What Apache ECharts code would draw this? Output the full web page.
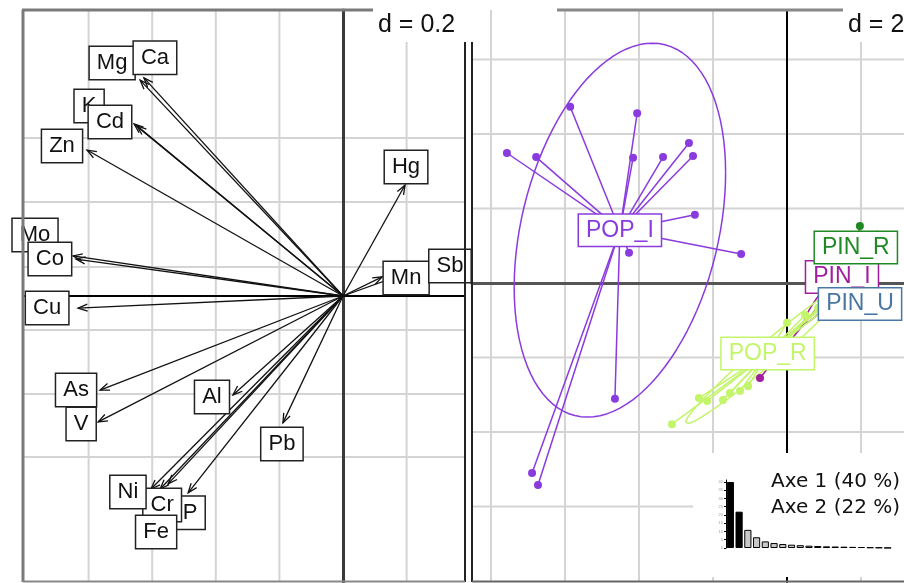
<!DOCTYPE html>
<html>
<head>
<meta charset="utf-8">
<script src="https://cdn.jsdelivr.net/npm/echarts@6.0.0/dist/echarts.min.js"></script>
<style>
  html, body { margin: 0; padding: 0; background: #fff; }
  #chart { width: 904px; height: 583px; }
</style>
</head>
<body>
<div id="chart"></div>
<script>
// ---- Correlation circle: loadings of each element on axes 1 and 2 ----
const variables = ['Mg','Ca','K','Cd','Zn','Mo','Co','Cu','As','V','Al','Pb','P','Cr','Ni','Fe','Hg','Mn','Sb'];
const loadAxis1 = [-0.638,-0.626,-0.657,-0.648,-0.805,-0.849,-0.840,-0.833,-0.764,-0.770,-0.346,-0.189,-0.487,-0.575,-0.604,-0.550, 0.195, 0.123, 0.242];
const loadAxis2 = [ 0.679, 0.686, 0.541, 0.535, 0.459, 0.126, 0.116,-0.038,-0.296,-0.396,-0.311,-0.399,-0.619,-0.607,-0.607,-0.591, 0.349, 0.060, 0.088];

// ---- Site scores on axes 1 and 2, by group ----
const groups = ['PIN_I','PIN_R','PIN_U','POP_I','POP_R'];
const pinI_x = [-0.73, 1.43, 1.57, 1.70, 1.84, 1.92, 1.59, 1.76, 1.54, 1.86, 1.65, 1.70];
const pinI_y = [-2.55, 0.56, 0.35, 0.48, 0.30, 0.46, 0.19, 0.62, 0.46, 0.35, 0.30, 0.40];
const pinR_x = [1.97, 1.84, 1.92, 1.76, 1.86, 1.81];
const pinR_y = [1.53, 0.83, 0.89, 0.75, 0.81, 0.89];
const pinU_x = [1.70, 1.92, 2.11, 2.24, 1.84, 2.03];
const pinU_y = [-0.46,-0.62,-0.51,-0.67,-0.73,-0.40];
const popI_x = [-5.86,-4.05,-7.57,-6.78,-4.16,-3.35,-2.65,-2.54,-2.49,-1.24,-4.27,-4.65,-6.89,-6.73];
const popI_y = [ 4.73, 4.56, 3.49, 3.38, 3.36, 3.38, 3.76, 3.41, 1.83, 0.78, 0.81,-3.11,-5.10,-5.42];
const popR_x = [-3.11,-2.38,-2.16,-1.73,-1.54,-1.27,-1.05, 0.00, 0.49, 0.84, 1.05, 1.22, 1.32, 1.00];
const popR_y = [-3.79,-3.09,-3.17,-3.14,-2.95,-2.90,-2.77,-1.07,-0.86,-0.67,-0.54,-0.43,-0.35,-0.73];

// ---- Eigenvalues (% of inertia) ----
const eigenPct = [40, 22, 11, 6.5, 4, 3, 2.4, 2, 1.7, 1.4, 1.2, 1, 0.9, 0.8, 0.7, 0.6, 0.4, 0.3, 0.1];

// ---- Reference grid positions ----
const leftGridX = [-0.8, -0.6, -0.4, -0.2, 0.2];
const leftGridY = [0.497, 0.296, 0.091, -0.107, -0.308, -0.506];
const rightGridX = [-8, -6, -4, -2, 2];
const rightGridY = [6, 4, 2, -2, -4, -6];

// ---- Layout / style ----
const LX = [-1.0063, 0.3836], LY = [-0.8994, 0.8994];
const RX = [-8.5135, 3.1622], RY = [-8.0268, 7.3289];
const groupColor = {
  PIN_I: '#A11E9E', PIN_R: '#1F8A24', PIN_U: '#4A77A2', POP_I: '#8A3BDE', POP_R: '#C3F56A'
};
// label box offset (px) from the arrow tip
const labelShift = {
  Mg:[-28,-17], Ca:[11,-20], K:[-45,-18], Cd:[-27,-4], Zn:[-25,-4], Mo:[-38,-21], Co:[-26,0],
  Cu:[-31,0], As:[-24,0], V:[-17,2], Al:[-21,2], Pb:[-1,21], P:[2,20], Cr:[2,16], Ni:[-23,3],
  Fe:[-12,48], Hg:[1,-18], Mn:[24,1], Sb:[30,-2]
};
const sansFont = '"Liberation Sans", Arial, sans-serif';

const groupPoints = {
  PIN_I: [pinI_x, pinI_y], PIN_R: [pinR_x, pinR_y], PIN_U: [pinU_x, pinU_y],
  POP_I: [popI_x, popI_y], POP_R: [popR_x, popR_y]
};

function mean(a) { return a.reduce((s, v) => s + v, 0) / a.length; }

// Inertia ellipse (1.5 standard deviations) of a group
function inertiaEllipse(xs, ys, coeff) {
  const mx = mean(xs), my = mean(ys), n = xs.length;
  let vx = 0, vy = 0, cxy = 0;
  for (let i = 0; i < n; i++) {
    vx += (xs[i] - mx) ** 2; vy += (ys[i] - my) ** 2; cxy += (xs[i] - mx) * (ys[i] - my);
  }
  vx /= n; vy /= n; cxy /= n;
  const rho = cxy / Math.sqrt(vx * vy);
  const gx = coeff * Math.sqrt(vx), gy = coeff * Math.sqrt(vy);
  const pts = [];
  for (let k = 0; k <= 100; k++) {
    const t = 2 * Math.PI * k / 100;
    pts.push([mx + gx * Math.cos(t), my + gy * (rho * Math.cos(t) + Math.sqrt(1 - rho * rho) * Math.sin(t))]);
  }
  return pts;
}

function gridLines(axisIdx, vals, vertical, ext, color, width) {
  return {
    type: 'custom', xAxisIndex: axisIdx, yAxisIndex: axisIdx, z: 1, silent: true,
    data: vals.map(v => [v, v]),
    renderItem: (p, api) => {
      const v = api.value(0);
      const a = vertical ? api.coord([v, ext[0]]) : api.coord([ext[0], v]);
      const b = vertical ? api.coord([v, ext[1]]) : api.coord([ext[1], v]);
      return { type: 'line', shape: { x1: a[0], y1: a[1], x2: b[0], y2: b[1] },
               style: { stroke: color, lineWidth: width } };
    }
  };
}

const series = [];

// left panel grid
series.push(gridLines(0, leftGridX, true, LY, '#d4d4d4', 2));
series.push(gridLines(0, leftGridY, false, LX, '#d4d4d4', 2));

// arrows
series.push({
  type: 'custom', xAxisIndex: 0, yAxisIndex: 0, z: 4, silent: true,
  data: variables.map((v, i) => [loadAxis1[i], loadAxis2[i]]),
  renderItem: (params, api) => {
    const o = api.coord([0, 0]);
    const t = api.coord([api.value(0), api.value(1)]);
    const ang = Math.atan2(t[1] - o[1], t[0] - o[0]);
    const hl = 10, ha = 0.36;
    const p1 = [t[0] - hl * Math.cos(ang - ha), t[1] - hl * Math.sin(ang - ha)];
    const p2 = [t[0] - hl * Math.cos(ang + ha), t[1] - hl * Math.sin(ang + ha)];
    return { type: 'group', children: [
      { type: 'line', shape: { x1: o[0], y1: o[1], x2: t[0], y2: t[1] }, style: { stroke: '#111', lineWidth: 1.3 } },
      { type: 'polyline', shape: { points: [p1, t, p2] }, style: { stroke: '#111', lineWidth: 1.3, fill: null } }
    ]};
  }
});

// variable labels
series.push({
  type: 'custom', xAxisIndex: 0, yAxisIndex: 0, z: 6, silent: true,
  data: variables.map((v, i) => [loadAxis1[i], loadAxis2[i]]),
  renderItem: (params, api) => {
    const t = api.coord([api.value(0), api.value(1)]);
    const name = variables[params.dataIndex];
    const s = labelShift[name];
    return { type: 'text', x: t[0] + s[0], y: t[1] + s[1],
      style: { text: name, font: '22px ' + sansFont, fill: '#111',
        align: 'center', verticalAlign: 'middle', textAlign: 'center', textVerticalAlign: 'middle',
        backgroundColor: '#fff', borderColor: '#222', borderWidth: 1.5, padding: [4, 7], lineHeight: 24 } };
  }
});

// right panel grid
series.push(gridLines(1, rightGridX, true, RY, '#d4d4d4', 2));
series.push(gridLines(1, rightGridY, false, RX, '#d4d4d4', 2));

// ellipses
groups.forEach(g => {
  const [xs, ys] = groupPoints[g];
  series.push({
    type: 'line', xAxisIndex: 1, yAxisIndex: 1, z: 3, silent: true, symbol: 'none',
    data: inertiaEllipse(xs, ys, 1.5),
    lineStyle: { color: groupColor[g], width: 1.5 }
  });
});

// stars and points
groups.forEach(g => {
  const [xs, ys] = groupPoints[g];
  const cx = mean(xs), cy = mean(ys);
  series.push({
    type: 'custom', xAxisIndex: 1, yAxisIndex: 1, z: 4, silent: true,
    data: xs.map((x, i) => [x, ys[i]]),
    renderItem: (params, api) => {
      const c = api.coord([cx, cy]);
      const p = api.coord([api.value(0), api.value(1)]);
      return { type: 'group', children: [
        { type: 'line', shape: { x1: c[0], y1: c[1], x2: p[0], y2: p[1] }, style: { stroke: groupColor[g], lineWidth: 1.5 } },
        { type: 'circle', shape: { cx: p[0], cy: p[1], r: 4 }, style: { fill: groupColor[g] } }
      ]};
    }
  });
});

// group labels at centroids
series.push({
  type: 'custom', xAxisIndex: 1, yAxisIndex: 1, z: 6, silent: true,
  data: groups.map(g => [mean(groupPoints[g][0]), mean(groupPoints[g][1])]),
  renderItem: (params, api) => {
    const c = api.coord([api.value(0), api.value(1)]);
    const g = groups[params.dataIndex];
    return { type: 'text', x: c[0], y: c[1],
      style: { text: g, font: '23px ' + sansFont, fill: groupColor[g],
        align: 'center', verticalAlign: 'middle', textAlign: 'center', textVerticalAlign: 'middle',
        backgroundColor: '#fff', borderColor: groupColor[g], borderWidth: 1.5, padding: [3, 7], lineHeight: 25 } };
  }
});

// eigenvalue bar inset
series.push({
  type: 'bar', xAxisIndex: 2, yAxisIndex: 2, z: 60, silent: true,
  barCategoryGap: '18%',
  data: eigenPct.map((v, i) => ({ value: v, itemStyle: { color: i < 2 ? '#000' : '#c8c8c8' } })),
  itemStyle: { borderColor: '#000', borderWidth: 1 }
});

const hidden = { axisTick: { show: false }, axisLabel: { show: false }, splitLine: { show: false } };

const option = {
  animation: false,
  backgroundColor: '#fff',
  grid: [
    { left: 23, top: 10, width: 442, height: 572 },
    { left: 472, top: 10, width: 432, height: 572 },
    { left: 726, top: 480, width: 166, height: 68 }
  ],
  xAxis: [
    Object.assign({ gridIndex: 0, type: 'value', min: LX[0], max: LX[1], z: 3,
      axisLine: { show: true, onZero: true, lineStyle: { color: '#000', width: 2 } } }, hidden),
    Object.assign({ gridIndex: 1, type: 'value', min: RX[0], max: RX[1], z: 3,
      axisLine: { show: true, onZero: true, lineStyle: { color: '#555', width: 3 } } }, hidden),
    { gridIndex: 2, type: 'category', data: eigenPct.map((v, i) => String(i + 1)), z: 60,
      axisLine: { show: false }, axisTick: { show: false }, axisLabel: { show: false }, splitLine: { show: false } }
  ],
  yAxis: [
    Object.assign({ gridIndex: 0, type: 'value', min: LY[0], max: LY[1], z: 3,
      axisLine: { show: true, onZero: true, lineStyle: { color: '#3a3a3a', width: 3 } } }, hidden),
    Object.assign({ gridIndex: 1, type: 'value', min: RY[0], max: RY[1], z: 3,
      axisLine: { show: true, onZero: true, lineStyle: { color: '#000', width: 2 } } }, hidden),
    { gridIndex: 2, type: 'value', min: 0, max: 41.2, interval: 5, z: 60,
      axisLine: { show: true, lineStyle: { color: '#000', width: 1 } },
      axisTick: { show: true, length: 2, lineStyle: { color: '#000' } },
      axisLabel: { show: true, fontSize: 4, color: '#999', margin: 3, showMaxLabel: false },
      splitLine: { show: false } }
  ],
  series: series,
  graphic: { elements: [
    // white panel behind the eigenvalue inset
    { type: 'rect', shape: { x: 693, y: 453, width: 211, height: 124 }, style: { fill: '#fff' }, z: 50, silent: true },
    { type: 'text', x: 771, y: 482, z: 61, silent: true,
      style: { text: 'Axe 1 (' + Math.round(eigenPct[0]) + ' %)', font: '20px "DejaVu Sans", sans-serif', fill: '#111', textVerticalAlign: 'middle', verticalAlign: 'middle' } },
    { type: 'text', x: 771, y: 508, z: 61, silent: true,
      style: { text: 'Axe 2 (' + Math.round(eigenPct[1]) + ' %)', font: '20px "DejaVu Sans", sans-serif', fill: '#111', textVerticalAlign: 'middle', verticalAlign: 'middle' } },
    // scale boxes
    { type: 'rect', shape: { x: 373, y: 0, width: 92, height: 42 }, style: { fill: '#fff' }, z: 50, silent: true },
    { type: 'text', x: 378, y: 25, z: 61, silent: true,
      style: { text: 'd = 0.2', font: '25px ' + sansFont, fill: '#111', textVerticalAlign: 'middle', verticalAlign: 'middle' } },
    { type: 'rect', shape: { x: 843, y: 0, width: 61, height: 42 }, style: { fill: '#fff' }, z: 50, silent: true },
    { type: 'text', x: 848, y: 25, z: 61, silent: true,
      style: { text: 'd = 2', font: '25px ' + sansFont, fill: '#111', textVerticalAlign: 'middle', verticalAlign: 'middle' } },
    // frames
    { type: 'line', shape: { x1: 23, y1: 10, x2: 23, y2: 582 }, style: { stroke: '#7a7a7a', lineWidth: 3 }, z: 70, silent: true },
    { type: 'line', shape: { x1: 22, y1: 10, x2: 373, y2: 10 }, style: { stroke: '#7a7a7a', lineWidth: 3 }, z: 70, silent: true },
    { type: 'line', shape: { x1: 465, y1: 42, x2: 465, y2: 582 }, style: { stroke: '#222', lineWidth: 2 }, z: 70, silent: true },
    { type: 'line', shape: { x1: 23, y1: 581.5, x2: 465, y2: 581.5 }, style: { stroke: '#888', lineWidth: 2 }, z: 70, silent: true },
    { type: 'line', shape: { x1: 472, y1: 42, x2: 472, y2: 582 }, style: { stroke: '#222', lineWidth: 2 }, z: 70, silent: true },
    { type: 'line', shape: { x1: 557, y1: 10, x2: 843, y2: 10 }, style: { stroke: '#888', lineWidth: 3 }, z: 70, silent: true },
    { type: 'line', shape: { x1: 472, y1: 581.5, x2: 904, y2: 581.5 }, style: { stroke: '#666', lineWidth: 2 }, z: 70, silent: true }
  ]}
};

const chart = echarts.init(document.getElementById('chart'), null, { renderer: 'canvas' });
chart.setOption(option);
</script>
</body>
</html>
